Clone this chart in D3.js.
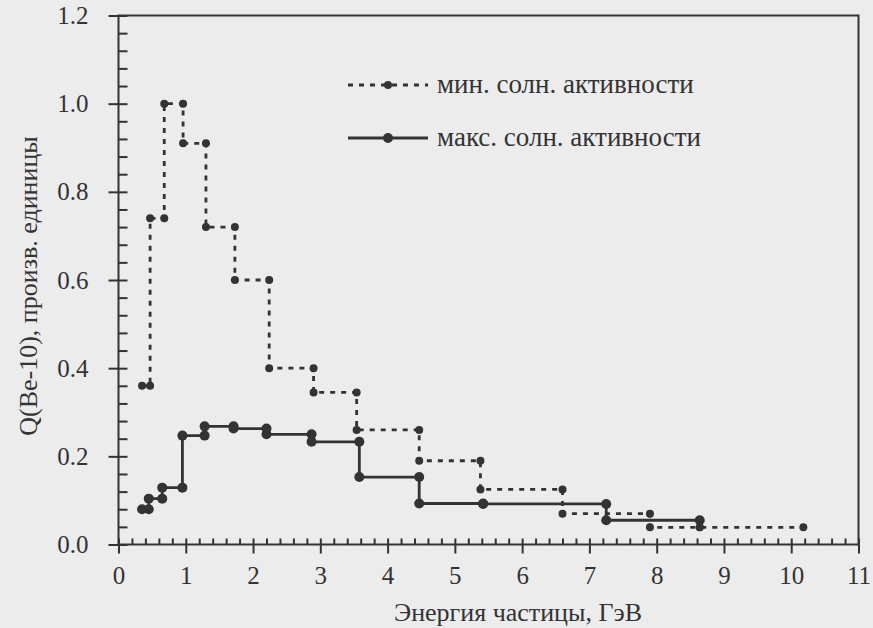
<!DOCTYPE html>
<html>
<head>
<meta charset="utf-8">
<script src="https://cdn.jsdelivr.net/npm/d3@7"></script>
<style>
  body { margin: 0; background: #ececec; }
  svg { display: block; }
  text { font-family: "Liberation Serif", "Times New Roman", serif; fill: #333; }
  .axis path, .axis line { stroke: #333; stroke-width: 2; }
  .axis text { font-family: "Liberation Serif", "Times New Roman", serif; font-size: 25px; fill: #333; }
</style>
</head>
<body>
<div id="chart"></div>
<script>
(function () {
  // bin edges (ГэВ) and values
  const minEdges = [0.35, 0.47, 0.68, 0.96, 1.30, 1.73, 2.24, 2.90, 3.54, 4.47, 5.38, 6.60, 7.90, 8.64, 10.18];
  const minValues = [0.36, 0.74, 1.00, 0.91, 0.72, 0.60, 0.40, 0.345, 0.26, 0.19, 0.125, 0.07, 0.039, 0.039];
  const maxEdges = [0.35, 0.45, 0.65, 0.95, 1.28, 1.71, 2.20, 2.87, 3.58, 4.47, 5.42, 7.25, 8.64];
  const maxValues = [0.08, 0.104, 0.129, 0.247, 0.268, 0.263, 0.25, 0.233, 0.153, 0.093, 0.092, 0.055];
  const xTicks = [0, 1, 2, 3, 4, 5, 6, 7, 8, 9, 10, 11];
  const yTicks = [0, 0.2, 0.4, 0.6, 0.8, 1.0, 1.2];
  const legendLabels = ["мин. солн. активности", "макс. солн. активности"];

  const w = 873;
  const h = 628;
  const left = 118.5, top = 15.5, right = 858.5, bottom = 544.5;
  const ink = "#333";

  const x = d3.scaleLinear().domain([0, 11]).range([left, right]);
  const y = d3.scaleLinear().domain([0, 1.2]).range([bottom, top]);

  const svg = d3.select("#chart").append("svg")
    .attr("width", w)
    .attr("height", h);

  // frame
  svg.append("rect")
    .attr("x", left).attr("y", top)
    .attr("width", right - left).attr("height", bottom - top)
    .attr("fill", "none").attr("stroke", ink).attr("stroke-width", 2);

  const minorX = d3.range(0, 55).map(i => i / 5).filter(v => v % 1 !== 0);
  const minorY = d3.range(0, 31).map(i => i * 0.04).filter((v, i) => i % 5 !== 0);

  // x axis
  svg.append("g").attr("class", "axis")
    .attr("transform", `translate(0, ${bottom})`)
    .call(d3.axisBottom(x).tickValues(xTicks).tickSize(9).tickPadding(13).tickFormat(d3.format("d")))
    .call(g => g.select(".domain").remove());
  svg.append("g").attr("class", "axis")
    .attr("transform", `translate(0, ${bottom})`)
    .call(d3.axisBottom(x).tickValues(xTicks).tickSize(-6).tickFormat(""))
    .call(g => g.select(".domain").remove());
  svg.append("g").attr("class", "axis")
    .attr("transform", `translate(0, ${bottom})`)
    .call(d3.axisBottom(x).tickValues(minorX).tickSize(-6).tickFormat(""))
    .call(g => g.select(".domain").remove());

  // y axis
  svg.append("g").attr("class", "axis")
    .attr("transform", `translate(${left}, 0)`)
    .call(d3.axisLeft(y).tickValues(yTicks).tickSize(10).tickPadding(20).tickFormat(d3.format(".1f")))
    .call(g => g.select(".domain").remove());
  svg.append("g").attr("class", "axis")
    .attr("transform", `translate(${left}, 0)`)
    .call(d3.axisLeft(y).tickValues(yTicks).tickSize(-9).tickFormat(""))
    .call(g => g.select(".domain").remove());
  svg.append("g").attr("class", "axis")
    .attr("transform", `translate(${left}, 0)`)
    .call(d3.axisLeft(y).tickValues(minorY).tickSize(-9).tickFormat(""))
    .call(g => g.select(".domain").remove());

  // axis titles
  svg.append("text")
    .attr("x", 518).attr("y", 621)
    .attr("text-anchor", "middle")
    .attr("font-size", 26)
    .text("Энергия частицы, ГэВ");
  svg.append("text")
    .attr("transform", "translate(37, 286) rotate(-90)")
    .attr("text-anchor", "middle")
    .attr("font-size", 26)
    .text("Q(Be-10), произв. единицы");

  function stepPoints(edges, values) {
    const pts = [];
    values.forEach((v, i) => {
      pts.push([edges[i], v]);
      pts.push([edges[i + 1], v]);
    });
    return pts;
  }

  const line = d3.line().x(d => x(d[0])).y(d => y(d[1]));

  const series = [
    { pts: stepPoints(minEdges, minValues), dash: "5,6", r: 4 },
    { pts: stepPoints(maxEdges, maxValues), dash: null, r: 5 }
  ];

  series.forEach(s => {
    svg.append("path")
      .datum(s.pts)
      .attr("d", line)
      .attr("fill", "none")
      .attr("stroke", ink)
      .attr("stroke-width", 2.8)
      .attr("stroke-dasharray", s.dash);
    svg.append("g").selectAll("circle")
      .data(s.pts)
      .enter()
      .append("circle")
      .attr("cx", d => x(d[0]))
      .attr("cy", d => y(d[1]))
      .attr("r", s.r)
      .attr("fill", ink);
  });

  // legend
  const legend = svg.append("g");
  legendLabels.forEach((label, i) => {
    const ly = 85 + i * 53;
    legend.append("line")
      .attr("x1", 348).attr("x2", 428)
      .attr("y1", ly).attr("y2", ly)
      .attr("stroke", ink).attr("stroke-width", 2.8)
      .attr("stroke-dasharray", series[i].dash);
    legend.append("circle")
      .attr("cx", 388).attr("cy", ly).attr("r", series[i].r).attr("fill", ink);
    legend.append("text")
      .attr("x", 437).attr("y", ly + 8)
      .attr("font-size", 27)
      .text(label);
  });
})();
</script>
</body>
</html>
